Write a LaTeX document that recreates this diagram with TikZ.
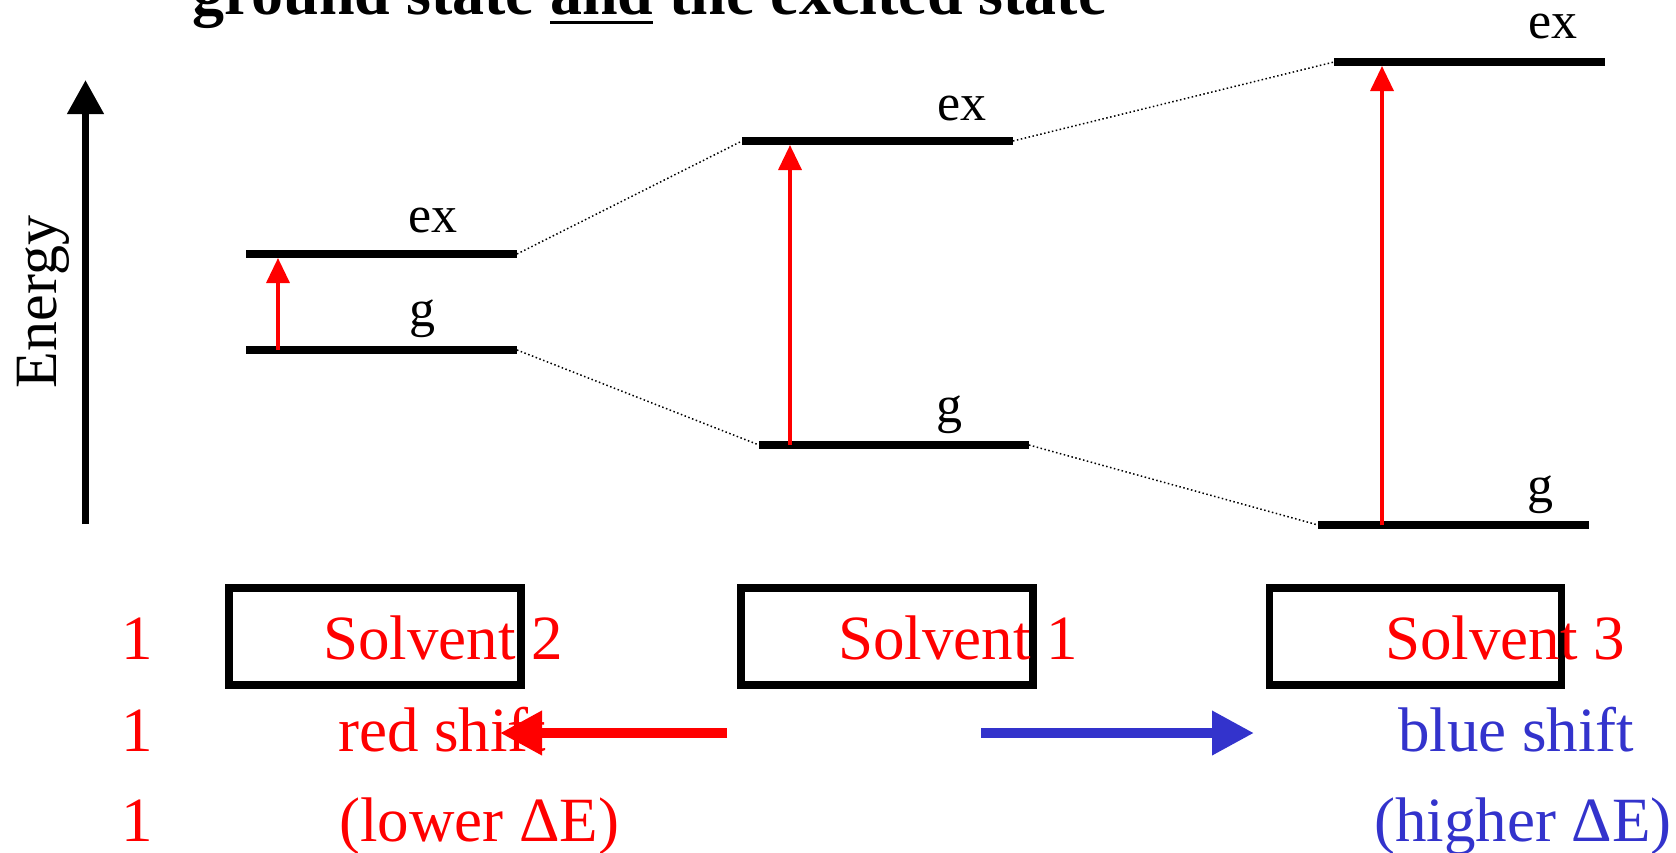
\documentclass[tikz,border=0pt]{standalone}
\usepackage{fontspec}
\setmainfont{Liberation Serif}
\usetikzlibrary{arrows.meta, positioning}
\definecolor{shiftblue}{RGB}{51,51,204}
\newcommand\andline[1]{\setbox0\hbox{#1}\rlap{\vrule width\wd0 height -7pt depth 10pt}\box0\relax}

\begin{document}
\begin{tikzpicture}[x=1pt, y=-1pt,
      lvl/.style={line width=7.5pt},
      trans/.style={-{Triangle[length=25pt,width=23pt]}, draw=red, line width=3.5pt},
      corr/.style={line width=1.5pt, dash pattern=on 1.5pt off 2.5pt},
      solbox/.style={draw, line width=7.5pt, minimum width=292pt, minimum height=97pt, inner sep=0pt},
      lbl/.style={font=\fontsize{52}{62}\selectfont, anchor=base, inner sep=0pt},
      soltxt/.style={font=\fontsize{63}{75}\selectfont, text=red, anchor=base west, inner sep=0pt},
      shiftarr/.style={-{Triangle[length=42pt,width=42pt]}, line width=10pt}]

    \useasboundingbox (0,0) rectangle (1676,852);

    % Title (cut at the top)
    \node[anchor=base west, inner sep=0pt, font=\bfseries\fontsize{64}{76}\selectfont]
        (title) at (192,14) {ground state \andline{and} the excited state};

    % Energy axis
    \coordinate (ebot) at (85.5,524);
    \coordinate (etop) at (85.5,80);
    \draw[-{Triangle[length=34pt,width=35pt]}, line width=7.5pt] (ebot) -- (etop);
    \node[rotate=90, anchor=base, inner sep=0pt, font=\fontsize{60}{72}\selectfont]
        (energy) at (56,302) {Energy};

    % Levels: solvent 2 (left)
    \coordinate (s2exL) at (246,254);  \coordinate (s2exR) at (517,254);
    \coordinate (s2gL)  at (246,350);  \coordinate (s2gR)  at (517,350);
    % Levels: solvent 1 (middle)
    \coordinate (s1exL) at (742,141);  \coordinate (s1exR) at (1013,141);
    \coordinate (s1gL)  at (759,445);  \coordinate (s1gR)  at (1029,445);
    % Levels: solvent 3 (right)
    \coordinate (s3exL) at (1334,62);  \coordinate (s3exR) at (1605,62);
    \coordinate (s3gL)  at (1318,525); \coordinate (s3gR)  at (1589,525);

    \draw[lvl] (s2exL) -- (s2exR);
    \draw[lvl] (s2gL)  -- (s2gR);
    \draw[lvl] (s1exL) -- (s1exR);
    \draw[lvl] (s1gL)  -- (s1gR);
    \draw[lvl] (s3exL) -- (s3exR);
    \draw[lvl] (s3gL)  -- (s3gR);

    % Level labels
    \node[lbl] (s2exlab) at (433,232)  {ex};
    \node[lbl] (s2glab)  at (422,326)  {g};
    \node[lbl] (s1exlab) at (962,120)  {ex};
    \node[lbl] (s1glab)  at (949,422)  {g};
    \node[lbl] (s3exlab) at (1553,38)  {ex};
    \node[lbl] (s3glab)  at (1540,502) {g};

    % Dotted correlation lines
    \draw[corr] (s2exR) -- (s1exL);
    \draw[corr] (s1exR) -- (s3exL);
    \draw[corr] (s2gR)  -- (s1gL);
    \draw[corr] (s1gR)  -- (s3gL);

    % Transitions
    \coordinate (t2a) at (278,350);  \coordinate (t2b) at (278,258);
    \coordinate (t1a) at (790,445);  \coordinate (t1b) at (790,145);
    \coordinate (t3a) at (1382,525); \coordinate (t3b) at (1382,66);
    \draw[trans] (t2a) -- (t2b);
    \draw[trans] (t1a) -- (t1b);
    \draw[trans] (t3a) -- (t3b);

    % Solvent boxes and names
    \node[solbox] (box2) at (375,636.5)  {};
    \node[solbox] (box1) at (887,636.5)  {};
    \node[solbox] (box3) at (1415.5,636.5) {};
    \node[soltxt] (sol2) at (323,659)  {Solvent 2};
    \node[soltxt] (sol1) at (838,659)  {Solvent 1};
    \node[soltxt] (sol3) at (1385,659) {Solvent 3};

    % Left column
    \node[soltxt, anchor=base] (num1) at (137,659) {1};
    \node[soltxt, anchor=base] (num2) at (137,751) {1};
    \node[soltxt, anchor=base] (num3) at (137,841) {1};

    % Shift labels
    \node[soltxt] (red1) at (338,751) {red shift};
    \node[soltxt] (red2) at (339,841) {(lower ΔE)};
    \node[soltxt, text=shiftblue] (blue1) at (1398,751) {blue shift};
    \node[soltxt, text=shiftblue] (blue2) at (1374,841) {(higher ΔE)};

    % Shift arrows
    \coordinate (rs) at (727,733);  \coordinate (re) at (500,733);
    \coordinate (bs) at (981,733);  \coordinate (be) at (1254,733);
    \draw[shiftarr, red] (rs) -- (re);
    \draw[shiftarr, shiftblue] (bs) -- (be);

\end{tikzpicture}
\end{document}
